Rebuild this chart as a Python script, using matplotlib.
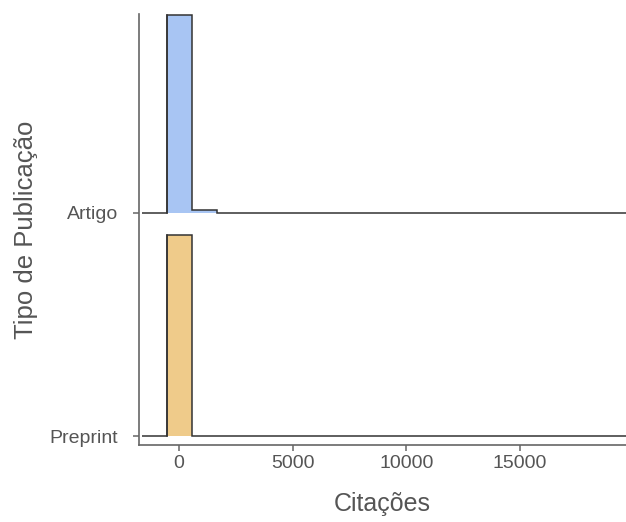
import numpy as np
import matplotlib.pyplot as plt

plt.rcParams['font.family'] = ['Liberation Sans', 'DejaVu Sans']

# ridgeline histogram data (relative bar heights, one value per bin)
groups = ["Preprint", "Artigo"]
bin_width = 1100
bin_start = -1630
artigo_h = [0, 0.885, 0.011, 0, 0, 0, 0, 0, 0, 0,
            0, 0, 0, 0, 0, 0, 0, 0, 0, 0]
preprint_h = [0, 0.90, 0.001, 0, 0, 0, 0, 0, 0, 0,
              0, 0, 0, 0, 0, 0, 0, 0, 0, 0]
fills = {"Artigo": "#a8c5f3", "Preprint": "#efcb8a"}
heights = {"Artigo": artigo_h, "Preprint": preprint_h}

xticks = [0, 5000, 10000, 15000]

fig = plt.figure(figsize=(6.26, 5.22), dpi=100)
ax = fig.add_axes([139 / 626, 77 / 522, 1 - 139 / 626, 431 / 522])

for i, g in enumerate(groups):
    base = i + 1
    h = np.array(heights[g])
    edges = bin_start + bin_width * np.arange(len(h) + 1)
    ax.stairs(base + h, edges, baseline=base, fill=True,
              color=fills[g], linewidth=0, zorder=2 + i)
    ax.stairs(base + h, edges, baseline=None, color="#333333",
              linewidth=1.1, zorder=3 + i)
    # vertical side of the tall bar
    ax.plot([edges[1], edges[1]], [base, base + h[1]], color="#333333", lw=1.1, zorder=3 + i)

ax.set_xlim(-1760, 19660)
ax.set_ylim(0.96, 2.888)
ax.set_xticks(xticks)
ax.set_xticklabels([str(t) for t in xticks])
ax.set_yticks([1, 2])
ax.set_yticklabels(groups)

for s in ["top", "right"]:
    ax.spines[s].set_visible(False)
for s in ["left", "bottom"]:
    ax.spines[s].set_color("#666666")
    ax.spines[s].set_linewidth(1.2)

ax.tick_params(colors="#666666", labelcolor="#555555", labelsize=14,
               length=4, width=1.1)
ax.tick_params(axis="y", pad=11)
ax.set_xlabel("Citações", fontsize=18, color="#555555", labelpad=14)
ax.set_ylabel("Tipo de Publicação", fontsize=18.5, color="#555555", labelpad=8)

fig.savefig("out.png", dpi=100)
